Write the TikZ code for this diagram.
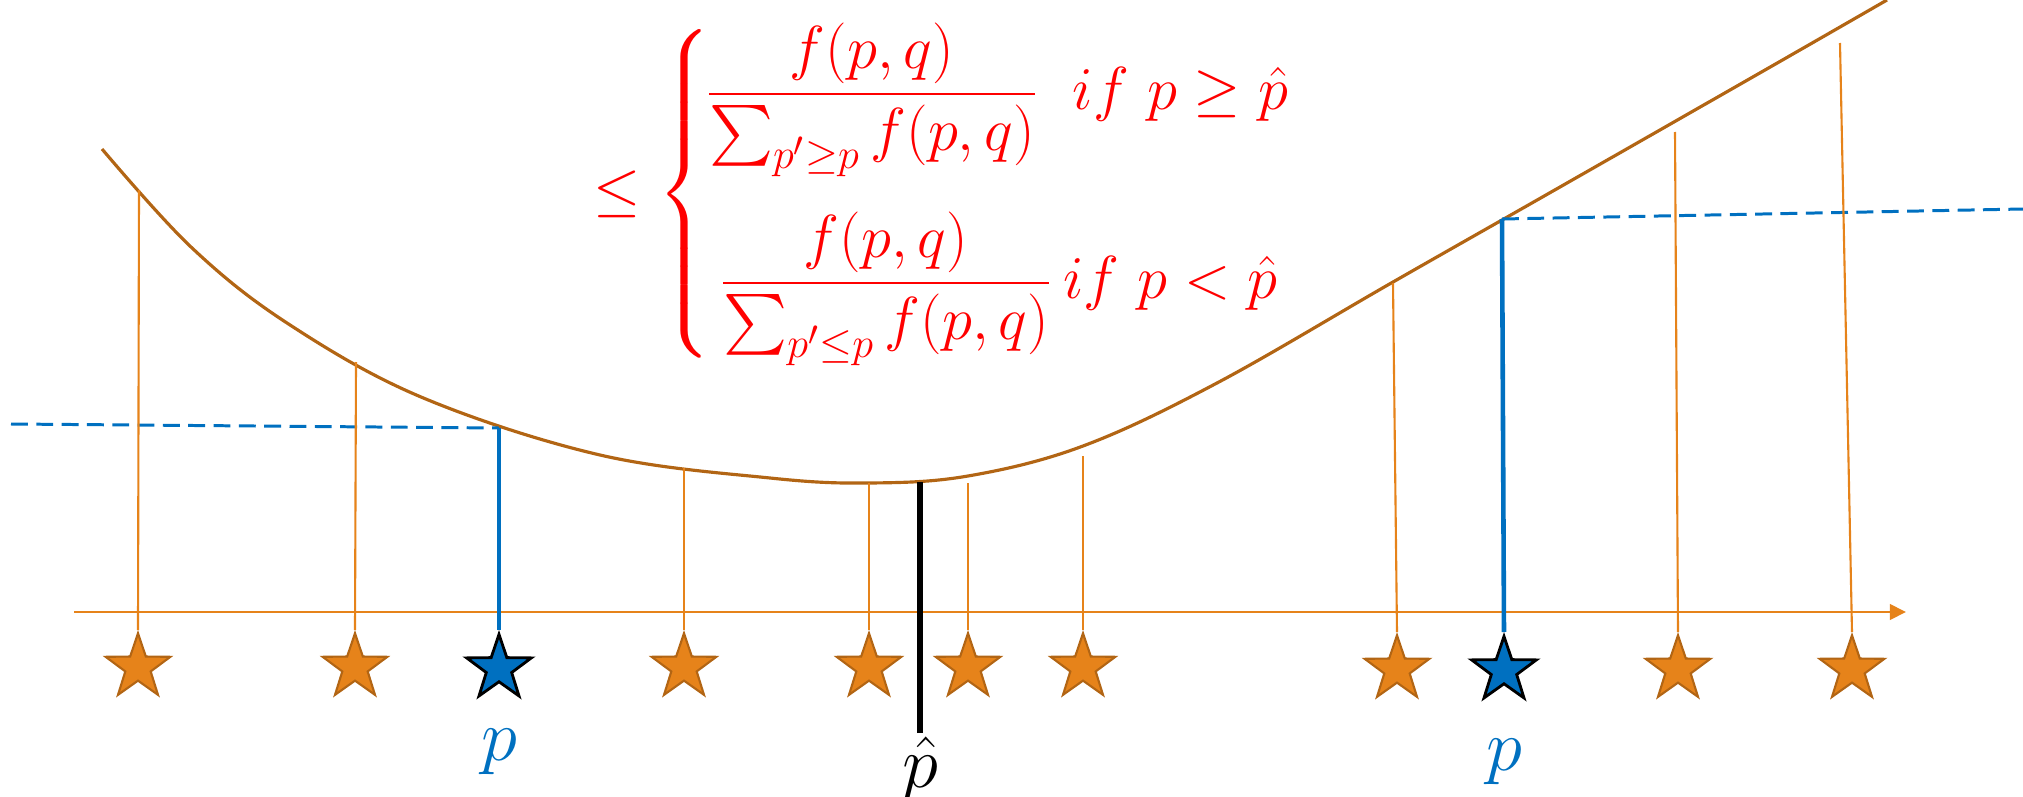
\documentclass[tikz,border=0pt]{standalone}
\usepackage{amsmath}
\usetikzlibrary{shapes.geometric,arrows.meta}
\definecolor{ptorange}{RGB}{230,131,26}
\definecolor{ptbrown}{RGB}{178,101,20}
\definecolor{ptblue}{RGB}{0,112,192}

\begin{document}
\begin{tikzpicture}[x=0.01cm, y=-0.01cm, >={Triangle[length=4.6pt,width=4.4pt]},
    ostar/.style={star, star points=5, star point ratio=2.55, minimum size=0.68cm,
      inner sep=0pt, anchor=north, fill=ptorange, draw=ptbrown, line width=0.6pt},
    bstar/.style={ostar, fill=ptblue, draw=black, line width=0.8pt},
    oline/.style={ptorange, line width=0.6pt},
    bline/.style={ptblue, line width=1.3pt},
    hline/.style={ptblue, dashed, line width=0.85pt, dash pattern=on 4.8pt off 2.4pt},
    fcurve/.style={ptbrown, line width=0.9pt},
    plabel/.style={text=ptblue, font=\huge, inner sep=1pt},
    eqtext/.style={text=red, font=\LARGE, inner sep=0pt}]
    \useasboundingbox (0,0) rectangle (2023,797);

    % 坐标轴
    \coordinate (ax0) at (74,612);
    \coordinate (ax1) at (1906,612);
    \draw[->, ptorange, line width=0.8pt] (ax0) -- (ax1);

    % 曲线
    \draw[fcurve] plot[smooth, tension=0.6] coordinates {(102,149) (191,247) (287,323)
      (421,397) (600,455) (770,478) (869,483) (968,476) (1083,446) (1217,383)
      (1393,282) (1560,187) (1779,62) (1887,0)};

    % 曲线上的点
    \coordinate (c1) at (139,190);
    \coordinate (c2) at (356,362);
    \coordinate (cb1) at (499,428);
    \coordinate (c3) at (684,468);
    \coordinate (c4) at (869,483);
    \coordinate (ch) at (920,482);
    \coordinate (c5) at (968,483);
    \coordinate (c6) at (1083,456);
    \coordinate (c7) at (1393,283);
    \coordinate (cb2) at (1502,219);
    \coordinate (c8) at (1675,132);
    \coordinate (c9) at (1840,43);
    \coordinate (dl) at (11,424);
    \coordinate (dr) at (2023,209);

    % 虚线
    \draw[hline] (dl) -- (cb1);
    \draw[hline] (cb2) -- (dr);

    % 样本点
    \node[ostar] (s1) at (138,630) {};
    \node[ostar] (s2) at (355,630) {};
    \node[bstar] (sb1) at (499,630) {};
    \node[ostar] (s3) at (684,630) {};
    \node[ostar] (s4) at (869,630) {};
    \node[ostar] (s5) at (968,630) {};
    \node[ostar] (s6) at (1083,630) {};
    \node[ostar] (s7) at (1397,632) {};
    \node[bstar] (sb2) at (1504,632) {};
    \node[ostar] (s8) at (1678,632) {};
    \node[ostar] (s9) at (1852,632) {};

    % 竖线
    \draw[oline] (s1.north) -- (c1);
    \draw[oline] (s2.north) -- (c2);
    \draw[oline] (s3.north) -- (c3);
    \draw[oline] (s4.north) -- (c4);
    \draw[oline] (s5.north) -- (c5);
    \draw[oline] (s6.north) -- (c6);
    \draw[oline] (s7.north) -- (c7);
    \draw[oline] (s8.north) -- (c8);
    \draw[oline] (s9.north) -- (c9);
    \draw[bline] (sb1.north) -- (cb1);
    \draw[bline] (sb2.north) -- (cb2);

    % 标签
    \node[plabel] (p1) at (499,752) {$p$};
    \node[plabel] (p2) at (1504,762) {$p$};
    \node[plabel, text=black, anchor=north] (ph) at (920,733) {$\hat{p}$};
    \draw[black, line width=1.7pt] (ph.north) -- (ch);

    % 公式
    \node[eqtext, anchor=west] (bound) at (593,194) {$\leq\begin{cases}
      \hspace{-2pt}\dfrac{f(p,q)}{\sum_{p'\geq p} f(p,q)}\;\; if\ p\geq\hat{p}\\
      \noalign{\vskip 10pt}
      \hspace{2pt}\dfrac{f(p,q)}{\sum_{p'\leq p} f(p,q)}\,if\ p<\hat{p}
      \end{cases}$};
\end{tikzpicture}
\end{document}
